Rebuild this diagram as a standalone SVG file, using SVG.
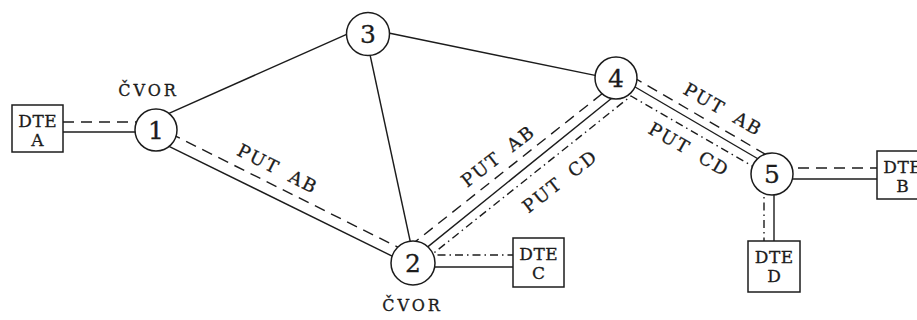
<svg xmlns="http://www.w3.org/2000/svg" width="917" height="320" viewBox="0 0 917 320">
  <style>
    .ln { fill: none; stroke: #1c1c1c; stroke-width: 1.4; }
    .dash { stroke-dasharray: 11 7; }
    .dd { stroke-dasharray: 8 4 1.5 4; }
    text { font-family: "DejaVu Serif", serif; text-anchor: middle; fill: #1c1c1c; stroke: #1c1c1c; stroke-width: 0.3; }
    .node circle { fill: #fff; stroke: #1c1c1c; stroke-width: 1.5; }
    .node text { font-size: 25px; }
    .dte rect { fill: #fff; stroke: #1c1c1c; stroke-width: 1.5; }
    .dte text { font-size: 17px; }
    .dte .t { letter-spacing: 0.5px; }
    .lbl { font-size: 18px; letter-spacing: 2px; word-spacing: 5px; }
    .cap { font-size: 16px; letter-spacing: 3px; }
  </style>

  <!-- connectors: solid = physical link, dashed = path AB, dash-dot = path CD -->
  <g id="connectors">
    <!-- trunk links between switching nodes -->
    <line class="ln" x1="165" y1="115.1" x2="350" y2="32.8"/>
    <line class="ln" x1="369" y1="50" x2="411" y2="245"/>
    <line class="ln" x1="385" y1="32.3" x2="600" y2="76.4"/>

    <!-- DTE A to node 1 -->
    <line class="ln dash" x1="63" y1="122" x2="150" y2="122"/>
    <line class="ln" x1="63" y1="132" x2="150" y2="132"/>

    <!-- node 1 to node 2 -->
    <line class="ln dash" x1="170" y1="133.3" x2="400" y2="248.3"/>
    <line class="ln" x1="168" y1="145.8" x2="398" y2="259"/>

    <!-- node 2 to node 4 -->
    <line class="ln dash" x1="410" y1="245.9" x2="610" y2="87.5"/>
    <line class="ln" x1="420" y1="253.1" x2="620" y2="91.5"/>

    <!-- path CD: node 2 to node 4 and on to node 5 -->
    <polyline class="ln dd" points="425,260 631,96 755,167.6"/>

    <!-- node 4 to node 5 -->
    <line class="ln dash" x1="632" y1="76.5" x2="768" y2="155.8"/>
    <line class="ln" x1="630" y1="84" x2="760" y2="160"/>

    <!-- node 5 to DTE B -->
    <line class="ln dash" x1="780" y1="168" x2="877" y2="168"/>
    <line class="ln" x1="780" y1="179" x2="877" y2="179"/>

    <!-- node 5 to DTE D -->
    <line class="ln dd" x1="764" y1="185" x2="764" y2="241"/>
    <line class="ln" x1="774" y1="185" x2="774" y2="241"/>

    <!-- node 2 to DTE C -->
    <line class="ln dd" x1="420" y1="255" x2="513" y2="255"/>
    <line class="ln" x1="420" y1="267" x2="513" y2="267"/>

    <!-- path labels -->
    <text class="lbl" x="275" y="174.5" transform="rotate(27 275 174.5)">PUT AB</text>
    <text class="lbl" x="502" y="161" transform="rotate(-38 502 161)">PUT AB</text>
    <text class="lbl" x="564" y="186" transform="rotate(-38 564 186)">PUT CD</text>
    <text class="lbl" x="720" y="115" transform="rotate(30 720 115)">PUT AB</text>
    <text class="lbl" x="686" y="155" transform="rotate(30 686 155)">PUT CD</text>
  </g>

  <!-- switching nodes -->
  <g id="node1" class="node">
    <circle cx="156" cy="130" r="21"/>
    <text x="156" y="139">1</text>
  </g>
  <g id="node2" class="node">
    <circle cx="413" cy="263" r="22"/>
    <text x="413" y="272">2</text>
  </g>
  <g id="node3" class="node">
    <circle cx="368" cy="34" r="21.5"/>
    <text x="368" y="43">3</text>
  </g>
  <g id="node4" class="node">
    <circle cx="616" cy="78" r="21"/>
    <text x="616" y="87">4</text>
  </g>
  <g id="node5" class="node">
    <circle cx="772" cy="174" r="21"/>
    <text x="772" y="183">5</text>
  </g>

  <!-- node captions -->
  <text class="cap" x="148.5" y="96">ČVOR</text>
  <text class="cap" x="412.5" y="311">ČVOR</text>

  <!-- terminals -->
  <g id="dteA" class="dte">
    <rect x="12" y="105" width="51" height="47"/>
    <text class="t" x="37.8" y="127">DTE</text>
    <text x="37.5" y="146">A</text>
  </g>
  <g id="dteB" class="dte">
    <rect x="877" y="151" width="51" height="48"/>
    <text class="t" x="902.8" y="173">DTE</text>
    <text x="902.5" y="192">B</text>
  </g>
  <g id="dteC" class="dte">
    <rect x="513" y="238" width="51" height="49"/>
    <text class="t" x="538.8" y="260">DTE</text>
    <text x="538.5" y="279">C</text>
  </g>
  <g id="dteD" class="dte">
    <rect x="748" y="241" width="52" height="51"/>
    <text class="t" x="774.3" y="263">DTE</text>
    <text x="774" y="282">D</text>
  </g>
</svg>
